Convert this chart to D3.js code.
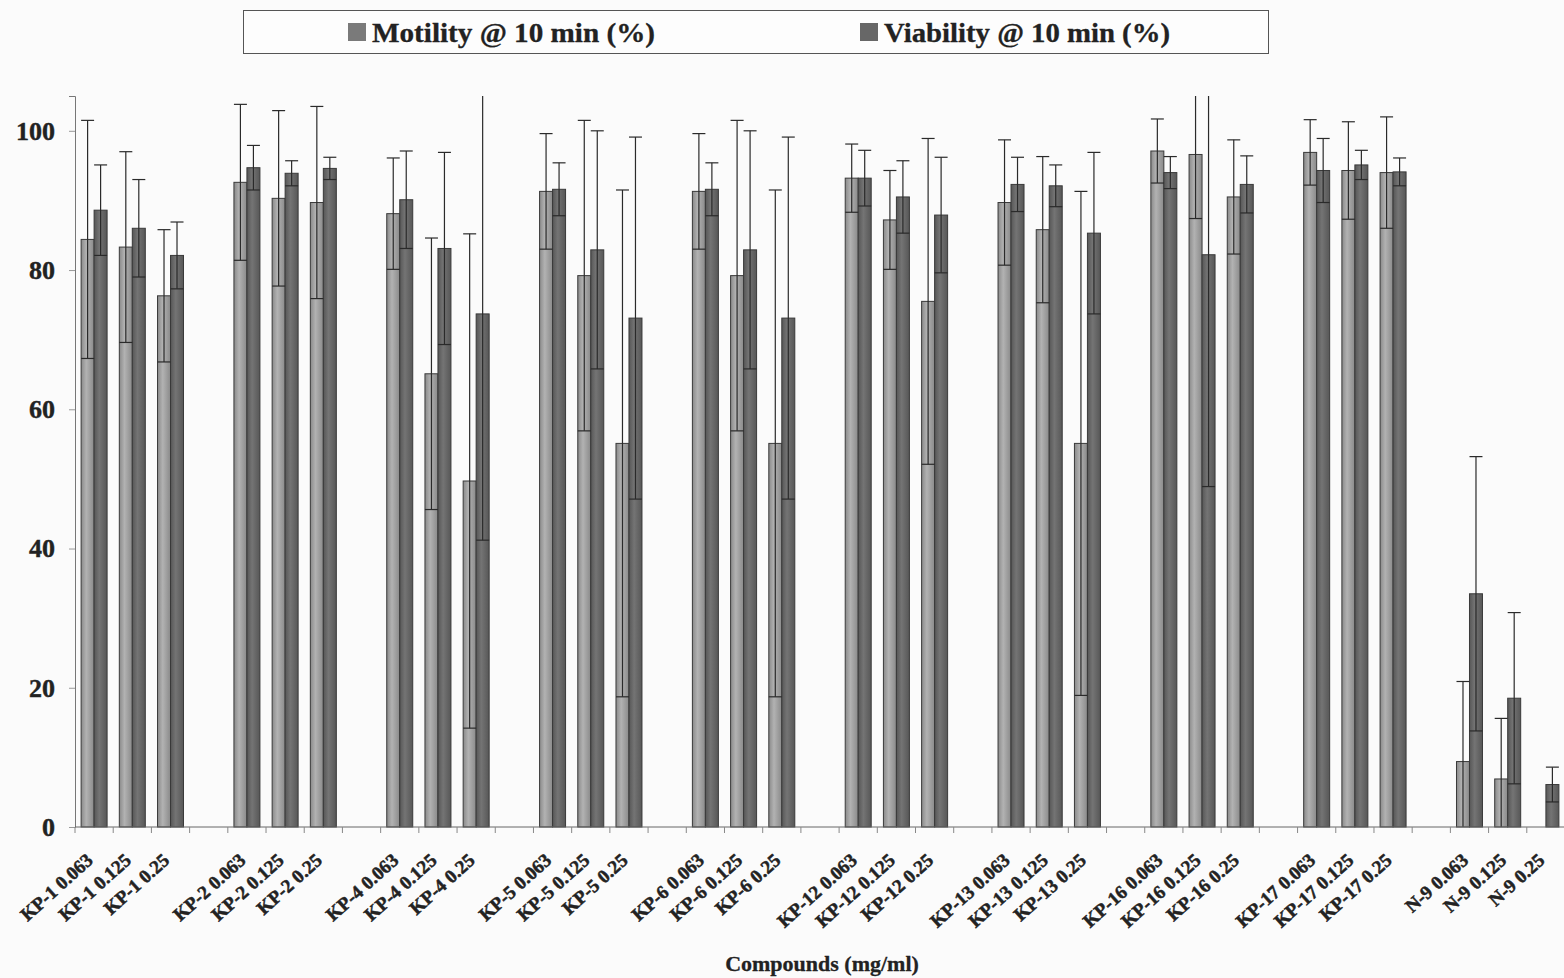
<!doctype html>
<html>
<head>
	<meta charset="utf-8">
	<title>Motility and viability</title>
	<script src="https://cdnjs.cloudflare.com/ajax/libs/d3/7.8.5/d3.min.js"></script>
	<style>
		body { margin: 0; background: #fbfbfb; }
		svg text { font-family: "Liberation Serif", "Times New Roman", serif; font-weight: bold; fill: #222; }
	</style>
</head>
<body>
	<script>
		// categories, with a blank slot between compounds
		var categories = [
			'KP-1 0.063', 'KP-1 0.125', 'KP-1 0.25', '',
			'KP-2 0.063', 'KP-2 0.125', 'KP-2 0.25', '',
			'KP-4 0.063', 'KP-4 0.125', 'KP-4 0.25', '',
			'KP-5 0.063', 'KP-5 0.125', 'KP-5 0.25', '',
			'KP-6 0.063', 'KP-6 0.125', 'KP-6 0.25', '',
			'KP-12 0.063', 'KP-12 0.125', 'KP-12 0.25', '',
			'KP-13 0.063', 'KP-13 0.125', 'KP-13 0.25', '',
			'KP-16 0.063', 'KP-16 0.125', 'KP-16 0.25', '',
			'KP-17 0.063', 'KP-17 0.125', 'KP-17 0.25', '',
			'N-9 0.063', 'N-9 0.125', 'N-9 0.25'
		];

		var motility = [
			84.4, 83.3, 76.3, null,
			92.6, 90.3, 89.7, null,
			88.1, 65.1, 49.7, null,
			91.3, 79.2, 55.1, null,
			91.3, 79.2, 55.1, null,
			93.2, 87.2, 75.5, null,
			89.7, 85.8, 55.1, null,
			97.1, 96.6, 90.5, null,
			96.9, 94.3, 94.0, null,
			9.4, 6.9, 0
		];
		var motilitySD = [
			17.1, 13.7, 9.5, null,
			11.2, 12.6, 13.8, null,
			8.0, 19.5, 35.5, null,
			8.3, 22.3, 36.4, null,
			8.3, 22.3, 36.4, null,
			4.9, 7.1, 23.4, null,
			9.0, 10.5, 36.2, null,
			4.6, 9.2, 8.2, null,
			4.7, 7.0, 8.0, null,
			11.5, 8.7, 0
		];

		var viability = [
			88.6, 86.0, 82.1, null,
			94.7, 93.9, 94.6, null,
			90.1, 83.1, 73.7, null,
			91.6, 82.9, 73.1, null,
			91.6, 82.9, 73.1, null,
			93.2, 90.5, 87.9, null,
			92.3, 92.1, 85.3, null,
			94.0, 82.2, 92.3, null,
			94.3, 95.1, 94.1, null,
			33.5, 18.5, 6.1
		];
		var viabilitySD = [
			6.5, 7.0, 4.8, null,
			3.2, 1.8, 1.6, null,
			7.0, 13.8, 32.5, null,
			3.8, 17.1, 26.0, null,
			3.8, 17.1, 26.0, null,
			4.0, 5.2, 8.3, null,
			3.9, 3.0, 11.6, null,
			2.3, 33.3, 4.1, null,
			4.6, 2.1, 2.0, null,
			19.7, 12.3, 2.5
		];

		var yTicks = [0, 20, 40, 60, 80, 100];
		var seriesNames = ['Motility @ 10 min (%)', 'Viability @ 10 min (%)'];

		var width = 1564, height = 978;
		var plotLeft = 75, plotRight = 1565, plotTop = 96, plotBottom = 827;

		var svg = d3.select('body').append('svg')
			.attr('width', width)
			.attr('height', height);

		var defs = svg.append('defs');
		function gradient(id, edge, mid) {
			var g = defs.append('linearGradient').attr('id', id)
				.attr('x1', '0%').attr('x2', '100%').attr('y1', '0%').attr('y2', '0%');
			g.append('stop').attr('offset', '0%').attr('stop-color', edge);
			g.append('stop').attr('offset', '40%').attr('stop-color', mid);
			g.append('stop').attr('offset', '100%').attr('stop-color', edge);
		}
		gradient('gMot', '#8a8a8a', '#b2b2b2');
		gradient('gVia', '#575757', '#747474');

		defs.append('clipPath').attr('id', 'plotClip')
			.append('rect')
			.attr('x', plotLeft).attr('y', plotTop)
			.attr('width', plotRight - plotLeft).attr('height', plotBottom - plotTop + 1);

		var x = d3.scaleBand()
			.domain(d3.range(categories.length))
			.range([plotLeft, plotRight]);

		var x1 = d3.scaleBand()
			.domain([0, 1])
			.range([0, x.bandwidth()])
			.paddingOuter(0.47);

		var y = d3.scaleLinear()
			.domain([0, 105])
			.range([plotBottom, plotTop]);

		// y axis
		var yAxis = svg.append('g')
			.attr('transform', 'translate(' + plotLeft + ',0)')
			.call(d3.axisLeft(y).tickValues(yTicks).tickSize(6).tickPadding(14));
		yAxis.select('.domain').attr('stroke', '#777');
		yAxis.selectAll('.tick line').attr('stroke', '#999');
		yAxis.selectAll('.tick text')
			.style('font-size', '26px')
			.attr('stroke', '#222').attr('stroke-width', 0.4);

		// bars
		var series = [
			{ values: motility, sd: motilitySD, fill: 'url(#gMot)' },
			{ values: viability, sd: viabilitySD, fill: 'url(#gVia)' }
		];

		var plot = svg.append('g').attr('clip-path', 'url(#plotClip)');

		series.forEach(function (s, k) {
			var idx = d3.range(categories.length).filter(function (i) { return s.values[i] !== null && s.values[i] > 0; });
			plot.append('g').selectAll('rect')
				.data(idx)
				.enter()
				.append('rect')
				.attr('x', function (i) { return x(i) + x1(k); })
				.attr('width', x1.bandwidth())
				.attr('y', function (i) { return y(s.values[i]); })
				.attr('height', function (i) { return y(0) - y(s.values[i]); })
				.attr('fill', s.fill)
				.attr('stroke', '#3a3a3a')
				.attr('stroke-width', 1);
		});

		// error bars on top
		series.forEach(function (s, k) {
			var idx = d3.range(categories.length).filter(function (i) { return s.values[i] !== null && s.sd[i] > 0; });
			var cap = x1.bandwidth() / 2;
			var eb = plot.append('g').selectAll('g')
				.data(idx)
				.enter()
				.append('g')
				.attr('stroke', '#2a2a2a')
				.attr('stroke-width', 1.2);
			function cx(i) { return x(i) + x1(k) + x1.bandwidth() / 2; }
			eb.append('line')
				.attr('x1', cx).attr('x2', cx)
				.attr('y1', function (i) { return y(s.values[i] + s.sd[i]); })
				.attr('y2', function (i) { return y(Math.max(0, s.values[i] - s.sd[i])); });
			eb.append('line')
				.attr('x1', function (i) { return cx(i) - cap; })
				.attr('x2', function (i) { return cx(i) + cap; })
				.attr('y1', function (i) { return y(s.values[i] + s.sd[i]); })
				.attr('y2', function (i) { return y(s.values[i] + s.sd[i]); });
			eb.filter(function (i) { return s.values[i] - s.sd[i] > 0; })
				.append('line')
				.attr('x1', function (i) { return cx(i) - cap; })
				.attr('x2', function (i) { return cx(i) + cap; })
				.attr('y1', function (i) { return y(s.values[i] - s.sd[i]); })
				.attr('y2', function (i) { return y(s.values[i] - s.sd[i]); });
		});

		// x axis, ticks on category boundaries
		var xAxis = svg.append('g')
			.attr('transform', 'translate(0,' + plotBottom + ')');
		xAxis.append('line')
			.attr('x1', plotLeft).attr('x2', plotRight)
			.attr('stroke', '#666');
		xAxis.selectAll('line.tk')
			.data(d3.range(categories.length))
			.enter()
			.append('line')
			.attr('class', 'tk')
			.attr('x1', function (i) { return x(i); })
			.attr('x2', function (i) { return x(i); })
			.attr('y1', 0).attr('y2', 6)
			.attr('stroke', '#888');
		xAxis.selectAll('text')
			.data(d3.range(categories.length).filter(function (i) { return categories[i] !== ''; }))
			.enter()
			.append('text')
			.attr('transform', function (i) {
				return 'translate(' + (x(i) + x.bandwidth() / 2) + ',35) rotate(-42)';
			})
			.attr('text-anchor', 'end')
			.attr('stroke', '#222').attr('stroke-width', 0.5)
			.style('font-size', '19px')
			.text(function (i) { return categories[i]; });

		svg.append('text')
			.attr('x', 822).attr('y', 971)
			.attr('text-anchor', 'middle')
			.style('font-size', '22px')
			.attr('stroke', '#222').attr('stroke-width', 0.3)
			.text('Compounds (mg/ml)');

		// legend
		var legend = svg.append('g');
		legend.append('rect')
			.attr('x', 243.5).attr('y', 10.5)
			.attr('width', 1025).attr('height', 43)
			.attr('fill', '#fdfdfd')
			.attr('stroke', '#555');
		var legendX = [348, 860];
		var legendLen = [283, 286];
		var swatch = ['#7a7a7a', '#676767'];
		seriesNames.forEach(function (name, k) {
			legend.append('rect')
				.attr('x', legendX[k]).attr('y', 23)
				.attr('width', 18).attr('height', 18)
				.attr('fill', swatch[k]);
			legend.append('text')
				.attr('x', legendX[k] + 24).attr('y', 42)
				.attr('textLength', legendLen[k])
				.attr('lengthAdjust', 'spacingAndGlyphs')
				.attr('stroke', '#222').attr('stroke-width', 0.3)
				.style('font-size', '27px')
				.text(name);
		});
	</script>
</body>
</html>
